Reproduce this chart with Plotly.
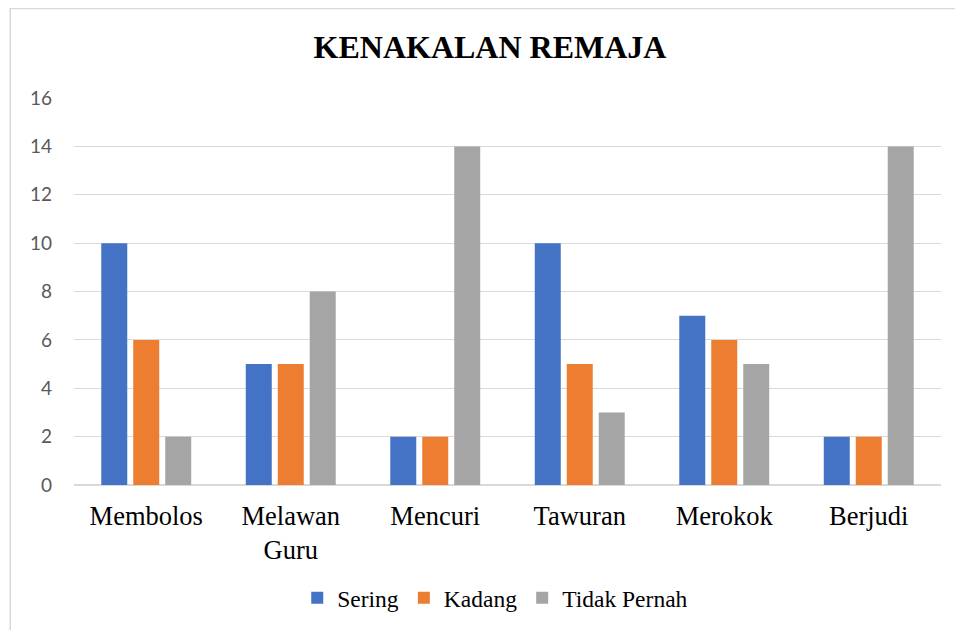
import plotly.graph_objects as go

categories = ["Membolos", "Melawan<br>Guru", "Mencuri", "Tawuran", "Merokok", "Berjudi"]
sering = [10, 5, 2, 10, 7, 2]
kadang = [6, 5, 2, 5, 6, 2]
tidak_pernah = [2, 8, 14, 3, 5, 14]
y_ticks = [0, 2, 4, 6, 8, 10, 12, 14, 16]

SERIF = "Liberation Serif, Times New Roman, serif"

fig = go.Figure()
for name, vals, color in [("Sering", sering, "#4472C4"),
                          ("Kadang", kadang, "#ED7D31"),
                          ("Tidak Pernah", tidak_pernah, "#A5A5A5")]:
    fig.add_trace(go.Bar(x=categories, y=vals, name=name,
                         marker=dict(color=color, line=dict(width=0))))

OFF = 8  # page body offset
L, R, T = 73.75 - OFF, 963 - (940.75 - OFF), 97.5 - OFF
B = 630 - (485 - OFF)
W = 963 - L - R
H = 630 - T - B

fig.update_layout(
    width=963, height=630,
    margin=dict(l=L, r=R, t=T, b=B, pad=0),
    paper_bgcolor="white", plot_bgcolor="white",
    barmode="group", bargap=0.336, bargroupgap=0.1875,
    title=dict(text="KENAKALAN REMAJA", x=(490 - OFF) / 963, xref="container",
               y=1 - (47 - OFF) / 630, yref="container", xanchor="center", yanchor="middle",
               font=dict(family=SERIF, size=32, color="black", weight="bold")),
    legend=dict(orientation="h", x=(495 - 73.75) / W, xanchor="center",
                y=(485 - 598) / H, yanchor="middle",
                font=dict(family=SERIF, size=23.5, color="black"),
                itemwidth=30, bgcolor="rgba(0,0,0,0)"),
    xaxis=dict(showgrid=False, showline=False, ticks="", ticklabelstandoff=12,
               tickfont=dict(family=SERIF, size=26.5, color="black")),
    yaxis=dict(range=[0, 16], tickvals=y_ticks, showgrid=True, gridcolor="#D9D9D9",
               gridwidth=1, zeroline=True, zerolinecolor="#D9D9D9", zerolinewidth=1.5,
               showline=False, ticks="", ticklabelstandoff=21,
               tickfont=dict(family="Lato", size=19, color="#595959")),
    shapes=[dict(type="rect", xref="paper", yref="paper",
                 x0=(10 - 73.75) / W, x1=(985 - 73.75) / W,
                 y0=(485 - 660) / H, y1=(485 - 8) / H,
                 line=dict(color="#D9D9D9", width=1.5), fillcolor="rgba(0,0,0,0)",
                 layer="below")],
)

fig.write_html("out.html")
